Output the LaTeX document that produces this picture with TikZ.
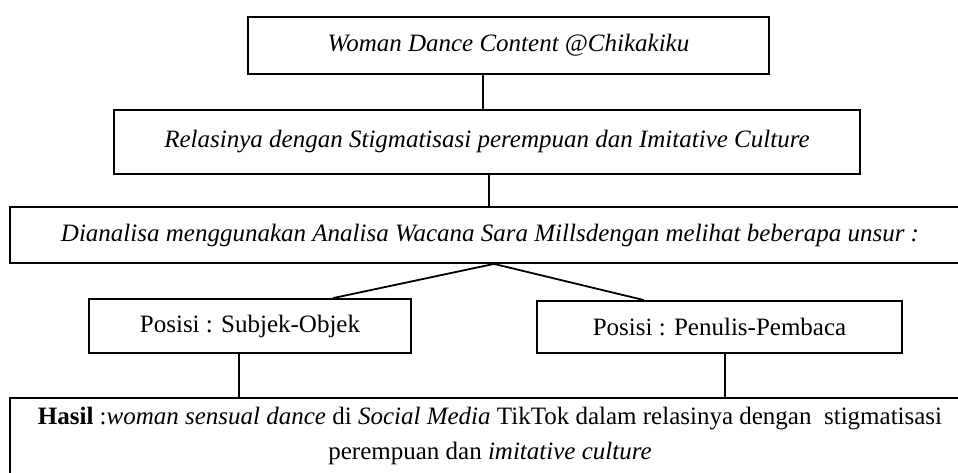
\documentclass[tikz,border=0pt]{standalone}
\usepackage{fontspec}
\setmainfont{Liberation Serif}
\usepackage{tikz}
\usetikzlibrary{positioning,calc}
\tikzset{
  box/.style  = {draw, line width=0.9pt, align=center, inner sep=0pt},
  link/.style = {draw, line width=0.9pt},
}

\begin{document}
\begin{tikzpicture}[x=0.5pt, y=-0.5pt, font=\fontsize{12.5pt}{17.5pt}\selectfont]
  \useasboundingbox (0,0) rectangle (958,472);
  \clip (0,0) rectangle (958,472);
  \node[box, minimum width=260.5pt, minimum height=28.5pt] (content) at (508.5,45.5)
    {\textit{Woman Dance Content @Chikakiku}};
  \node[box, minimum width=373pt, minimum height=32pt] (relasi) at (487,142)
    {\textit{Relasinya dengan Stigmatisasi perempuan dan Imitative Culture}};
  \node[box, minimum width=480pt, minimum height=28pt] (analisa) at (490,235)
    {\textit{Dianalisa menggunakan Analisa Wacana Sara Millsdengan melihat beberapa unsur :}};
  \node[box, minimum width=161pt, minimum height=27pt] (subjek) at (250,326)
    {Posisi : Subjek-Objek};
  \node[box, minimum width=182.5pt, minimum height=26pt] (penulis) at (719.5,327)
    {Posisi : Penulis-Pembaca};
  \node[box, anchor=north, minimum width=480pt, minimum height=38pt] (hasil) at (490,397)
    {\textbf{Hasil} :\textit{woman sensual dance} di \textit{Social Media} TikTok dalam relasinya dengan~ stigmatisasi\\
     perempuan dan \textit{imitative culture}};
  % connectors
  \coordinate (c1) at ($(content.south)+(-25.5,0)$);
  \coordinate (c2) at ($(relasi.south)+(2,0)$);
  \coordinate (split) at ($(analisa.south)+(4,0)$);
  \coordinate (c4) at ($(subjek.south)+(-11,0)$);
  \coordinate (c5) at ($(penulis.south)+(5.5,0)$);
  \draw[link] (c1) -- (c1 |- relasi.north);
  \draw[link] (c2) -- (c2 |- analisa.north);
  \draw[link] ($(subjek.north)+(83,0)$) -- (split) -- ($(penulis.north)+(-75.5,0)$);
  \draw[link] (c4) -- (c4 |- hasil.north);
  \draw[link] (c5) -- (c5 |- hasil.north);
\end{tikzpicture}
\end{document}
